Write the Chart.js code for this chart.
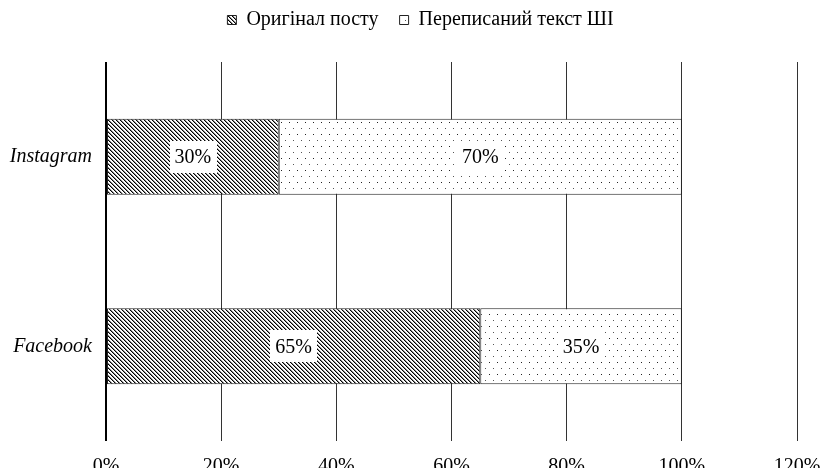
<!DOCTYPE html>
<html><head><meta charset="utf-8">
<script src="https://cdn.jsdelivr.net/npm/chart.js@4"></script>
<style>html,body{margin:0;padding:0;overflow:hidden;background:#fff}
#wrap{width:821px;height:500px;position:relative}</style></head>
<body><div id="wrap"><canvas id="c"></canvas></div>
<script>
const categories = ['Instagram', 'Facebook'];
const seriesNames = ['Оригінал посту', 'Переписаний текст ШІ'];
const originalPost = [30, 65];
const aiRewritten = [70, 35];
const tickValues = [0, 20, 40, 60, 80, 100, 120];

const canvas = document.getElementById('c');
const ctx = canvas.getContext('2d');

function makeHatch() {
  const t = document.createElement('canvas'); t.width = 4; t.height = 4;
  const g = t.getContext('2d');
  g.fillStyle = '#fff'; g.fillRect(0, 0, 4, 4);
  for (let i = 0; i < 4; i++) {
    g.fillStyle = '#000'; g.fillRect(i, i, 1, 1);
    g.fillStyle = '#8a8a8a'; g.fillRect((i + 1) % 4, i, 1, 1);
  }
  return ctx.createPattern(t, 'repeat');
}
function makeDots() {
  const t = document.createElement('canvas'); t.width = 8; t.height = 12;
  const g = t.getContext('2d');
  g.fillStyle = '#fff'; g.fillRect(0, 0, 8, 12);
  g.fillStyle = '#222'; g.fillRect(1, 2, 1, 1);
  g.fillStyle = '#555'; g.fillRect(5, 8, 1, 1);
  return ctx.createPattern(t, 'repeat');
}
const hatchP = makeHatch();
const dotP = makeDots();
const serif = 'Liberation Serif';

const valueLabels = {
  id: 'valueLabels',
  afterDatasetsDraw(chart) {
    const c = chart.ctx;
    c.save();
    c.font = '20px "' + serif + '"';
    c.textAlign = 'center'; c.textBaseline = 'middle';
    chart.data.datasets.forEach((ds, di) => {
      chart.getDatasetMeta(di).data.forEach((bar, i) => {
        const x = (bar.x + bar.base) / 2, y = bar.y;
        const t = ds.data[i] + '%';
        const w = c.measureText(t).width;
        c.fillStyle = '#fff';
        c.fillRect(Math.round(x - w / 2 - 5), Math.round(y - 16), Math.round(w + 10), 32);
        c.fillStyle = '#000';
        c.fillText(t, x, y + 1);
      });
    });
    c.restore();
  }
};
const legendSpacer = {
  id: 'legendSpacer',
  beforeLayout(chart) {
    const l = chart.legend;
    if (l && !l._wrapped) {
      const f = l.fit;
      l.fit = function () { f.call(this); this.height = 73; };
      l._wrapped = true;
    }
  },
  afterLayout(chart) {
    const l = chart.legend;
    if (l) { l.left += 18; l.right += 18; }
  }
};

new Chart(ctx, {
  type: 'bar',
  data: {
    labels: categories,
    datasets: [
      { label: seriesNames[0], data: originalPost, backgroundColor: hatchP, borderColor: '#222', borderWidth: 1, borderSkipped: false, barPercentage: 0.4, categoryPercentage: 1 },
      { label: seriesNames[1], data: aiRewritten, backgroundColor: dotP, borderColor: '#222', borderWidth: 1, borderSkipped: false, barPercentage: 0.4, categoryPercentage: 1 }
    ]
  },
  options: {
    indexAxis: 'y',
    responsive: true,
    maintainAspectRatio: false,
    animation: false,
    layout: { padding: { left: 8, right: 24, top: -11, bottom: 19 } },
    plugins: {
      legend: {
        position: 'top',
        labels: { boxWidth: 9, boxHeight: 9, padding: 21, color: '#000', font: { family: serif, size: 20 } }
      },
      tooltip: { enabled: false }
    },
    scales: {
      x: {
        stacked: true, min: 0, max: 120,
        afterBuildTicks: s => { s.ticks = tickValues.map(v => ({ value: v })); },
        afterFit: s => { s.height = 40; s.paddingRight = 0; s.paddingLeft = 0; },
        ticks: { callback: v => v + '%', color: '#000', padding: 14, maxRotation: 0, font: { family: serif, size: 20 } },
        grid: {
          drawTicks: false,
          color: c => c.index === 0 ? '#000' : '#333',
          lineWidth: c => c.index === 0 ? 2 : 1
        },
        border: { display: false }
      },
      y: {
        stacked: true,
        afterFit: s => { s.width = 98; },
        grid: { display: false, drawTicks: false },
        border: { display: false },
        ticks: { color: '#000', padding: 14, font: { family: serif, size: 20, style: 'italic' } }
      }
    }
  },
  plugins: [valueLabels, legendSpacer]
});
</script>
</body></html>
